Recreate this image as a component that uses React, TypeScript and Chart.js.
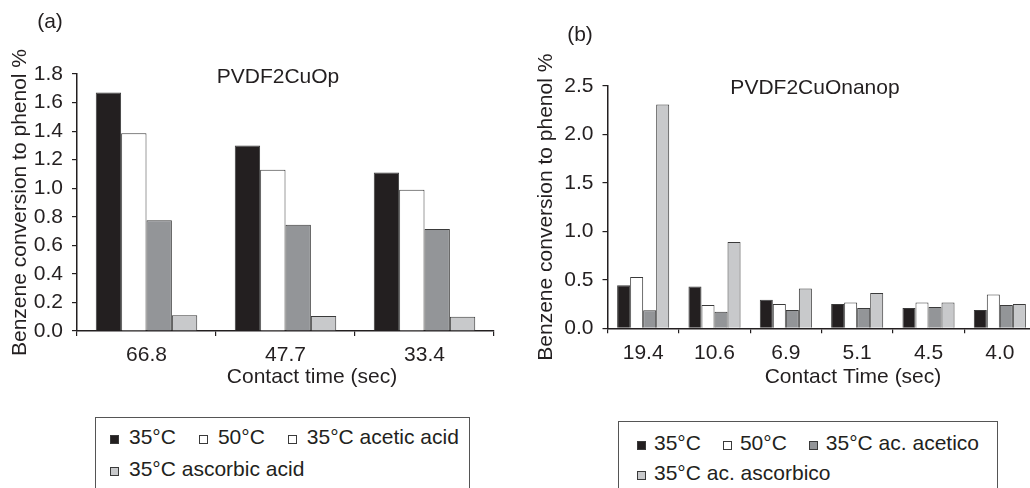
import React, { useEffect, useRef } from "react";
import { Chart, registerables } from "chart.js";

Chart.register(...registerables);

// ---------- Data ----------
const categoriesA = ["66.8", "47.7", "33.4"];
const a35 = [1.67, 1.3, 1.11];
const a50 = [1.385, 1.13, 0.99];
const aAcetic = [0.775, 0.745, 0.715];
const aAscorbic = [0.11, 0.105, 0.1];

const categoriesB = ["19.4", "10.6", "6.9", "5.1", "4.5", "4.0"];
const b35 = [0.445, 0.43, 0.295, 0.25, 0.21, 0.19];
const b50 = [0.53, 0.24, 0.25, 0.265, 0.265, 0.35];
const bAcetico = [0.185, 0.17, 0.19, 0.21, 0.22, 0.24];
const bAscorbico = [2.31, 0.89, 0.41, 0.365, 0.265, 0.25];

const seriesNamesA = ["35°C", "50°C", "35°C acetic acid", "35°C ascorbic acid"];
const seriesNamesB = ["35°C", "50°C", "35°C ac. acetico", "35°C ac. ascorbico"];

// ---------- Styles ----------
const INK = "#231f20";
const EDGE = "#3a3a3a";
const FILLS = ["#231f20", "#ffffff", "#939598", "#c8c9cb"];
const FONT_FAMILY = "'Liberation Sans', Arial, Helvetica, sans-serif";
const FS = 21;

const textPlugin = {
  id: "extraText",
  afterDraw(chart: any, _args: any, opts: any) {
    const ctx = chart.ctx;
    ctx.save();
    ctx.fillStyle = INK;
    ctx.font = `${FS}px ${FONT_FAMILY}`;
    ctx.textAlign = "center";
    ctx.textBaseline = "middle";
    for (const t of opts.items || []) ctx.fillText(t.text, t.x, t.y);
    ctx.restore();
  },
};

function makeConfig(
  labels: string[],
  data: number[][],
  names: string[],
  yMax: number,
  yStep: number,
  yWidth: number,
  yTitlePad: number,
  padding: any,
  items: any[]
) {
  return {
    type: "bar",
    data: {
      labels,
      datasets: data.map((d, i) => ({
        label: names[i],
        data: d,
        backgroundColor: FILLS[i],
        borderColor: EDGE,
        borderWidth: 1,
        barPercentage: 1.0,
        categoryPercentage: 0.73,
      })),
    },
    options: {
      responsive: false,
      animation: false,
      layout: { padding },
      plugins: {
        legend: { display: false },
        tooltip: { enabled: false },
        extraText: { items },
      },
      scales: {
        x: {
          offset: true,
          grid: {
            offset: true,
            drawOnChartArea: false,
            drawTicks: true,
            tickLength: 5,
            color: INK,
            lineWidth: 1.2,
          },
          border: { display: true, color: INK, width: 1.5 },
          ticks: {
            color: INK,
            padding: 7,
            font: { size: FS, family: FONT_FAMILY },
            maxRotation: 0,
          },
          afterFit: (s: any) => {
            s.height = 40;
          },
        },
        y: {
          min: 0,
          max: yMax,
          grid: {
            drawOnChartArea: false,
            drawTicks: true,
            tickLength: 5,
            color: INK,
            lineWidth: 1.2,
          },
          border: { display: true, color: INK, width: 1.5 },
          ticks: {
            stepSize: yStep,
            color: INK,
            padding: 9,
            font: { size: FS, family: FONT_FAMILY },
            callback: (v: any) => Number(v).toFixed(1),
          },
          title: {
            display: true,
            text: "Benzene conversion to phenol %",
            color: INK,
            font: { size: FS, family: FONT_FAMILY },
            padding: { top: yTitlePad, bottom: 0 },
          },
          afterFit: (s: any) => {
            s.width = yWidth;
          },
        },
      },
    },
    plugins: [textPlugin],
  } as any;
}

function ChartCanvas({ config, width, height, left }: any) {
  const ref = useRef<HTMLCanvasElement | null>(null);
  useEffect(() => {
    if (!ref.current) return;
    const chart = new Chart(ref.current, config);
    return () => chart.destroy();
  }, []);
  return (
    <canvas
      ref={ref}
      width={width}
      height={height}
      style={{ position: "absolute", left, top: 0, width, height }}
    />
  );
}

function Marker({ color }: { color: string }) {
  return (
    <span
      style={{
        display: "inline-block",
        width: 7,
        height: 7,
        background: color,
        border: `1px solid ${EDGE}`,
        verticalAlign: "baseline",
      }}
    />
  );
}

function LegendRow({ items, top, left, gapText, gapItem }: any) {
  return (
    <div
      style={{
        position: "absolute",
        top,
        left,
        whiteSpace: "nowrap",
        fontFamily: FONT_FAMILY,
        fontSize: FS,
        lineHeight: "24px",
        color: INK,
      }}
    >
      {items.map((it: any, i: number) => (
        <span key={i} style={{ marginLeft: i === 0 ? 0 : gapItem }}>
          <Marker color={it.color} />
          <span style={{ marginLeft: gapText }}>{it.text}</span>
        </span>
      ))}
    </div>
  );
}

export default function App() {
  const configA = makeConfig(
    categoriesA,
    [a35, a50, aAcetic, aAscorbic],
    seriesNamesA,
    1.8,
    0.2,
    77,
    7.4,
    { left: 0, top: 74, right: 16, bottom: 29 },
    [
      { text: "(a)", x: 50, y: 22 },
      { text: "PVDF2CuOp", x: 278, y: 77 },
      { text: "Contact time (sec)", x: 312, y: 377 },
    ]
  );
  const configB = makeConfig(
    categoriesB,
    [b35, b50, bAcetico, bAscorbico],
    seriesNamesB,
    2.5,
    0.5,
    97.5,
    23.4,
    { left: 0, top: 86, right: 4.5, bottom: 31.7 },
    [
      { text: "(b)", x: 70, y: 35 },
      { text: "PVDF2CuOnanop", x: 305, y: 88 },
      { text: "Contact Time (sec)", x: 343, y: 377 },
    ]
  );

  return (
    <div
      style={{
        position: "fixed",
        left: 0,
        top: 0,
        width: 1030,
        height: 488,
        overflow: "hidden",
        background: "#ffffff",
      }}
    >
      <ChartCanvas config={configA} width={510} height={400} left={0} />
      <ChartCanvas config={configB} width={530} height={400} left={510} />

      {/* Legend (a) */}
      <div
        style={{
          position: "absolute",
          left: 95,
          top: 417,
          width: 375,
          height: 100,
          border: "1.5px solid #555",
          boxSizing: "border-box",
        }}
      />
      <LegendRow
        top={425}
        left={110}
        gapText={10}
        gapItem={23}
        items={[
          { color: FILLS[0], text: seriesNamesA[0] },
          { color: FILLS[1], text: seriesNamesA[1] },
          { color: FILLS[1], text: seriesNamesA[2] },
        ]}
      />
      <LegendRow
        top={457}
        left={110}
        gapText={10}
        gapItem={23}
        items={[{ color: FILLS[3], text: seriesNamesA[3] }]}
      />

      {/* Legend (b) */}
      <div
        style={{
          position: "absolute",
          left: 618,
          top: 421,
          width: 380,
          height: 100,
          border: "1.5px solid #555",
          boxSizing: "border-box",
        }}
      />
      <LegendRow
        top={431}
        left={637}
        gapText={8}
        gapItem={22}
        items={[
          { color: FILLS[0], text: seriesNamesB[0] },
          { color: FILLS[1], text: seriesNamesB[1] },
          { color: FILLS[2], text: seriesNamesB[2] },
        ]}
      />
      <LegendRow
        top={461}
        left={637}
        gapText={8}
        gapItem={22}
        items={[{ color: FILLS[3], text: seriesNamesB[3] }]}
      />
    </div>
  );
}
